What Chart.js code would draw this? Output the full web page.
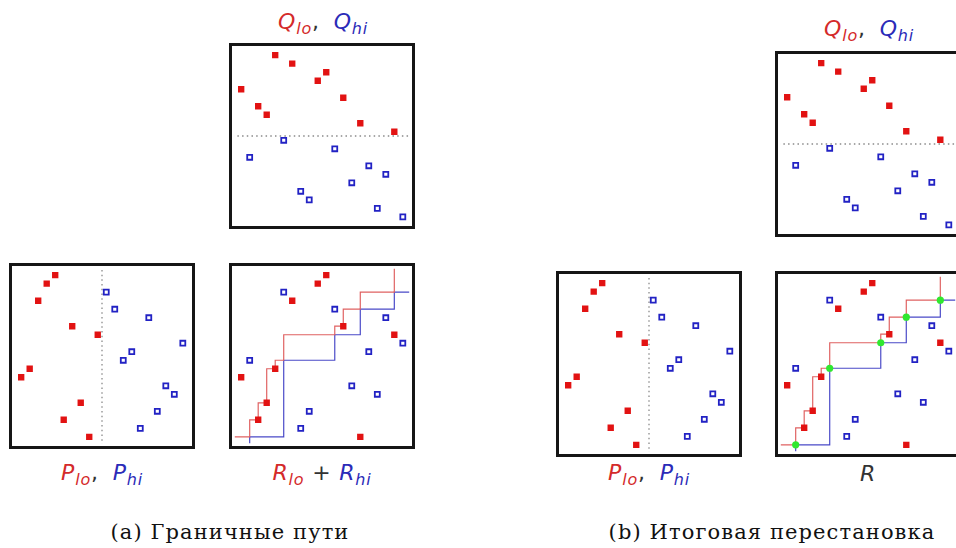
<!DOCTYPE html>
<html>
<head>
<meta charset="utf-8">
<script src="https://cdn.jsdelivr.net/npm/chart.js@4"></script>
<style>
  html, body { margin: 0; padding: 0; background: #fff; width: 956px; height: 548px; overflow: hidden; }
  .panel { position: absolute; width: 186px; height: 186px; }
  .lbl { position: absolute; font-family: "DejaVu Sans", sans-serif; font-style: italic; font-size: 22px; line-height: 22px; letter-spacing: 0.8px; white-space: nowrap; transform: translateX(-50%); }
  .lbl sub { font-size: 16px; line-height: 0; vertical-align: -5px; }
  .red { color: #d42a2a; }
  .blue { color: #2b2bb8; }
  .dark { color: #333; font-style: normal; }
  .gap { margin-right: 6px; }
  .cap { position: absolute; font-family: "DejaVu Serif", serif; font-size: 21px; line-height: 21px; letter-spacing: 1.1px; white-space: nowrap; transform: translateX(-50%); color: #111; }
</style>
</head>
<body>

<div class="panel" style="left:229px;top:43px"><canvas id="qa" width="186" height="186"></canvas></div>
<div class="panel" style="left:9px;top:263px"><canvas id="pa" width="186" height="186"></canvas></div>
<div class="panel" style="left:229px;top:263px"><canvas id="ra" width="186" height="186"></canvas></div>
<div class="panel" style="left:775px;top:51px"><canvas id="qb" width="186" height="186"></canvas></div>
<div class="panel" style="left:556px;top:271px"><canvas id="pb" width="186" height="186"></canvas></div>
<div class="panel" style="left:775px;top:271px"><canvas id="rb" width="186" height="186"></canvas></div>

<div class="lbl" style="left:323px;top:11px"><span class="red">Q<sub>lo</sub></span><span class="dark gap">,</span> <span class="blue">Q<sub>hi</sub></span></div>
<div class="lbl" style="left:102px;top:462px"><span class="red">P<sub>lo</sub></span><span class="dark gap">,</span> <span class="blue">P<sub>hi</sub></span></div>
<div class="lbl" style="left:322px;top:462px"><span class="red">R<sub>lo</sub></span><span class="dark"> + </span><span class="blue">R<sub>hi</sub></span></div>
<div class="lbl" style="left:869px;top:18px"><span class="red">Q<sub>lo</sub></span><span class="dark gap">,</span> <span class="blue">Q<sub>hi</sub></span></div>
<div class="lbl" style="left:649px;top:462px"><span class="red">P<sub>lo</sub></span><span class="dark gap">,</span> <span class="blue">P<sub>hi</sub></span></div>
<div class="lbl" style="left:868px;top:463px"><span class="dark" style="font-style:italic">R</span></div>

<div class="cap" style="left:230px;top:522px">(a) Граничные пути</div>
<div class="cap" style="left:772px;top:522px">(b) Итоговая перестановка</div>

<script>
// [column, row] of each point, 20x20 grid, row 1 at the bottom
const qLo = [[5,20],[7,19],[11,18],[10,17],[1,16],[13,15],[3,14],[4,13],[15,12],[19,11]];
const qHi = [[6,10],[12,9],[2,8],[16,7],[18,6],[14,5],[8,4],[9,3],[17,2],[20,1]];
const pLo = [[5,20],[4,19],[3,17],[7,14],[10,13],[2,9],[1,8],[8,5],[6,3],[9,1]];
const pHi = [[11,18],[12,16],[16,15],[20,12],[14,11],[13,10],[18,7],[19,6],[17,4],[15,2]];
const rLo = [[11,20],[10,19],[7,17],[13,14],[19,13],[5,9],[1,8],[4,5],[3,3],[15,1]];
const rHi = [[6,18],[12,16],[18,15],[20,12],[16,11],[2,10],[14,7],[17,6],[9,4],[8,2]];

// boundary paths through R (they run off the frame at both ends)
const loPath = [[0,1],[2,1],[2,3],[3,3],[3,5],[4,5],[4,9],[5,9],[5,10],[6,10],[6,13],[12,13],[12,14],[13,14],[13,16],[15,16],[15,18],[19,18],[19,22]];
const hiPath = [[2,0],[2,1],[6,1],[6,10],[12,10],[12,13],[15,13],[15,16],[19,16],[19,18],[22,18]];
const meets = [[2,1],[6,10],[12,13],[15,16],[19,18]];

const split = 10.5;

const xy = (arr) => arr.map(([x, y]) => ({ x, y }));

const frame = {
  id: 'frame',
  afterDraw(chart) {
    const ctx = chart.ctx;
    ctx.save();
    ctx.strokeStyle = '#161616';
    ctx.lineWidth = 3;
    ctx.strokeRect(1.5, 1.5, chart.width - 3, chart.height - 3);
    ctx.restore();
  }
};

function loSet(arr) {
  return {
    type: 'scatter', data: xy(arr), pointStyle: 'rect', pointRadius: 4.5,
    backgroundColor: '#e21212', borderColor: '#e21212', borderWidth: 0
  };
}
function hiSet(arr) {
  return {
    type: 'scatter', data: xy(arr), pointStyle: 'rect', pointRadius: 3.5,
    backgroundColor: '#ffffff', borderColor: '#2222c4', borderWidth: 1.8
  };
}
function pathSet(arr, color) {
  return {
    type: 'line', data: xy(arr), borderColor: color, borderWidth: 1.2,
    pointRadius: 0, fill: false, tension: 0
  };
}
function dotted(arr) {
  return {
    type: 'line', data: xy(arr), borderColor: '#8a8a8a', borderWidth: 1.3,
    borderDash: [1.5, 3.2], pointRadius: 0, fill: false
  };
}

function panel(id, datasets) {
  new Chart(document.getElementById(id), {
    data: { datasets },
    options: {
      responsive: false,
      animation: false,
      events: [],
      layout: { padding: 3 },
      plugins: { legend: { display: false }, tooltip: { enabled: false } },
      scales: {
        x: { type: 'linear', min: 0.25, max: 20.75, display: false },
        y: { type: 'linear', min: 0.25, max: 20.75, display: false }
      }
    },
    plugins: [frame]
  });
}

const qLine = [[0, split], [22, split]];
const pLine = [[split, 0], [split, 22]];

panel('qa', [loSet(qLo), hiSet(qHi), dotted(qLine)]);
panel('pa', [loSet(pLo), hiSet(pHi), dotted(pLine)]);
panel('ra', [loSet(rLo), hiSet(rHi), pathSet(loPath, '#e06262'), pathSet(hiPath, '#4a4ac8')]);
panel('qb', [loSet(qLo), hiSet(qHi), dotted(qLine)]);
panel('pb', [loSet(pLo), hiSet(pHi), dotted(pLine)]);
panel('rb', [
  { type: 'scatter', data: xy(meets), pointStyle: 'circle', pointRadius: 3.6, backgroundColor: '#30e830', borderWidth: 0 },
  loSet(rLo), hiSet(rHi), pathSet(loPath, '#e06262'), pathSet(hiPath, '#4a4ac8')
]);
</script>
</body>
</html>
